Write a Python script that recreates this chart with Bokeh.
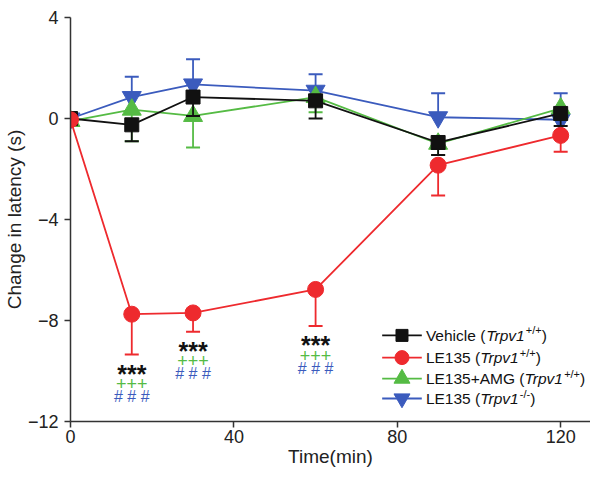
from bokeh.plotting import figure
from bokeh.models import Label, FixedTicker, Range1d
from bokeh.core.properties import value
from bokeh.embed import file_html
from bokeh.resources import INLINE

# ---------------- data ----------------
time_min = [0, 15, 30, 60, 90, 120]

vehicle_mean = [0.0, -0.25, 0.85, 0.7, -0.95, 0.2]
vehicle_sem = [0.0, 0.65, 0.75, 0.7, 0.5, 0.5]

le135_mean = [-0.05, -7.75, -7.7, -6.77, -1.85, -0.67]
le135_sem = [0.0, 1.6, 0.75, 1.45, 1.2, 0.65]

amg_mean = [-0.1, 0.35, 0.1, 0.85, -1.0, 0.4]
amg_sem = [0.0, 1.25, 1.25, 0.6, 0.45, 0.45]

ko_mean = [0.0, 0.85, 1.35, 1.1, 0.05, -0.05]
ko_sem = [0.0, 0.8, 1.0, 0.65, 0.95, 1.05]

sig_times = [15, 30, 60]
sig_vs_vehicle = ["***", "***", "***"]
sig_vs_amg = ["+++", "+++", "+++"]
sig_vs_ko = ["# # #", "# # #", "# # #"]

x_ticks = [0, 40, 80, 120]
y_ticks = [-12, -8, -4, 0, 4]

legend_names = ["Vehicle (", "LE135 (", "LE135+AMG (", "LE135 ("]
legend_gene = ["Trpv1", "Trpv1", "Trpv1", "Trpv1"]
legend_geno = ["+/+", "+/+", "+/+", "-/-"]

# ---------------- style ----------------
FONT = "Liberation Sans"
BLACK = "#111111"
RED = "#ee2a2e"
GREEN = "#55bb44"
BLUE = "#3b5bbd"

p = figure(width=590, height=470, output_backend="svg", toolbar_location=None,
           x_range=Range1d(0, 127.3), y_range=Range1d(-12, 4),
           min_border_left=68, min_border_right=0, min_border_top=17, min_border_bottom=49)
p.outline_line_color = None
p.xgrid.visible = False
p.ygrid.visible = False
p.background_fill_color = "white"

for ax in (p.xaxis[0], p.yaxis[0]):
    ax.axis_line_color = "#333333"
    ax.axis_line_width = 1.5
    ax.major_tick_line_color = "#333333"
    ax.major_tick_line_width = 1.5
    ax.major_tick_in = 0
    ax.major_tick_out = 6
    ax.minor_tick_line_color = None
    ax.major_label_text_font = FONT
    ax.major_label_text_font_size = "18px"
    ax.major_label_text_color = "#222222"
    ax.axis_label_text_font = FONT
    ax.axis_label_text_font_size = "19px"
    ax.axis_label_text_font_style = "normal"
    ax.axis_label_text_color = "#222222"
    ax.axis_label_standoff = 0

p.xaxis.major_label_standoff = 2
p.yaxis.major_label_standoff = 6
p.xaxis.ticker = FixedTicker(ticks=x_ticks)
p.yaxis.ticker = FixedTicker(ticks=y_ticks)
p.xaxis.axis_label = "Time(min)"
p.yaxis.axis_label = "Change in latency (s)"

series = [
    (ko_mean, ko_sem, 1, BLUE, "inverted_triangle", 19),
    (amg_mean, amg_sem, -1, GREEN, "triangle", 19),
    (vehicle_mean, vehicle_sem, -1, BLACK, "square", 14),
    (le135_mean, le135_sem, -1, RED, "circle", 16),
]

for mean, sem, direction, color, marker, size in series:
    xs = [t for t, s in zip(time_min, sem) if s > 0]
    y0 = [m for m, s in zip(mean, sem) if s > 0]
    y1 = [m + direction * s for m, s in zip(mean, sem) if s > 0]
    p.segment(x0=xs, y0=y0, x1=xs, y1=y1, line_color=color, line_width=1.8)
    p.scatter(x=xs, y=y1, marker="dash", size=14, line_color=color, line_width=2)
    p.line(time_min, mean, line_color=color, line_width=1.8)
    p.scatter(time_min, mean, marker=marker, size=size, fill_color=color,
              line_color=color, line_width=1)

# significance marks below LE135 error bars
sig_y = [le135_mean[time_min.index(t)] - le135_sem[time_min.index(t)] for t in sig_times]
p.text(x=sig_times, y=sig_y, text=sig_vs_vehicle, y_offset=19, text_align="center",
       text_baseline="middle", text_font=value(FONT), text_font_size="25px",
       text_font_style="bold", text_color="#111111")
p.text(x=sig_times, y=sig_y, text=sig_vs_amg, y_offset=29, text_align="center",
       text_baseline="middle", text_font=value(FONT), text_font_size="18px",
       text_color=GREEN)
p.text(x=sig_times, y=sig_y, text=sig_vs_ko, y_offset=42, text_align="center",
       text_baseline="middle", text_font=value(FONT), text_font_size="16px",
       text_color=BLUE)

# ---------------- manual legend ----------------
W = {' ': 278, '(': 333, ')': 333, '+': 584, '/': 278, '-': 333, '1': 556, '3': 556,
     '5': 556, 'A': 667, 'E': 667, 'G': 778, 'L': 556, 'M': 833, 'T': 611, 'V': 667,
     'c': 500, 'e': 556, 'h': 556, 'i': 222, 'l': 222, 'p': 556, 'r': 333, 'v': 500}


def tw(s, size):
    return sum(W.get(c, 556) for c in s) * size / 1000.0


LEG_LINE_X = (76.3, 86.0)
LEG_MARK_X = 81.15
LEG_TEXT_X = 87.0
LEG_ROWS_Y = [-8.59, -9.47, -10.30, -11.09]
leg_styles = [(BLACK, "square", 12), (RED, "circle", 14), (GREEN, "triangle", 16),
              (BLUE, "inverted_triangle", 16)]
LF = 15.5
SF = 11

for i, (color, marker, size) in enumerate(leg_styles):
    yy = LEG_ROWS_Y[i]
    p.line(list(LEG_LINE_X), [yy, yy], line_color=color, line_width=1.8)
    p.scatter([LEG_MARK_X], [yy], marker=marker, size=size, fill_color=color,
              line_color=color)
    pieces = [
        (legend_names[i], "normal", LF, 0),
        (legend_gene[i], "italic", LF, 0),
        (legend_geno[i], "normal", SF, 5),
        (")", "normal", LF, 0),
    ]
    off = 0.0
    for txt, style, fs, raise_px in pieces:
        p.add_layout(Label(x=LEG_TEXT_X, y=yy, x_offset=off, y_offset=raise_px, text=txt,
                           text_font=FONT, text_font_size=f"{fs}px", text_font_style=style,
                           text_baseline="middle", text_align="left", text_color="#111111"))
        off += tw(txt, fs)

open("out.html", "w").write(file_html(p, INLINE))
